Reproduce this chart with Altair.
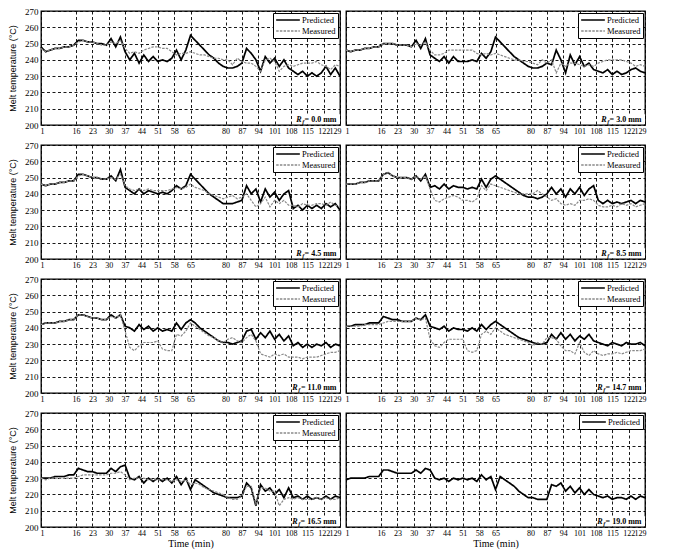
import altair as alt
import pandas as pd

# Sampling times (min), every 2 minutes
TIME = list(range(1, 130, 2))

X_TICKS = [1, 16, 23, 30, 37, 44, 51, 58, 65, 80, 87, 94, 101, 108, 115, 122, 129]
Y_TICKS = [200, 210, 220, 230, 240, 250, 260, 270]

RF_LABELS = ["0.0", "3.0", "4.5", "8.5", "11.0", "14.7", "16.5", "19.0"]

# Predicted melt temperature (°C), one list per Rf
PRED_00 = [248, 245, 246, 247, 247, 248, 248, 249, 252, 252, 251, 251, 250,
           250, 249, 253, 248, 254, 245, 240, 244, 238, 243, 239, 242, 239,
           240, 239, 241, 246, 240, 246, 255, 252, 249, 246, 243, 241, 238,
           236, 235, 235, 236, 238, 247, 244, 240, 233, 242, 238, 241, 236,
           240, 235, 233, 231, 233, 230, 232, 230, 232, 236, 231, 235, 230]
PRED_30 = [246, 245, 246, 246, 247, 247, 248, 248, 250, 250, 250, 249, 249,
           249, 248, 252, 247, 253, 243, 241, 239, 242, 238, 242, 239, 239,
           239, 240, 239, 244, 241, 245, 254, 251, 248, 245, 242, 240, 238,
           236, 235, 235, 236, 238, 237, 246, 240, 232, 243, 237, 242, 236,
           238, 234, 233, 232, 234, 231, 233, 231, 232, 234, 235, 233, 232]
PRED_45 = [246, 245, 246, 246, 247, 247, 248, 248, 252, 252, 251, 250, 250,
           249, 249, 251, 248, 255, 244, 242, 240, 243, 240, 242, 241, 240,
           241, 240, 242, 245, 243, 245, 252, 249, 246, 243, 240, 238, 236,
           234, 234, 234, 235, 236, 245, 240, 243, 235, 243, 238, 241, 236,
           240, 242, 231, 233, 230, 233, 231, 233, 231, 234, 232, 234, 230]
PRED_85 = [246, 246, 246, 247, 247, 248, 248, 248, 252, 253, 251, 250, 250,
           250, 249, 251, 248, 252, 244, 245, 243, 246, 243, 245, 244, 244,
           243, 244, 243, 249, 244, 249, 251, 249, 247, 245, 243, 241, 239,
           238, 238, 237, 238, 240, 244, 240, 243, 238, 243, 240, 244, 239,
           243, 245, 236, 234, 236, 234, 235, 234, 235, 236, 234, 236, 235]
PRED_110 = [242, 243, 243, 243, 244, 244, 245, 245, 248, 248, 247, 246, 246,
            245, 245, 248, 246, 248, 241, 240, 238, 242, 239, 241, 238, 240,
            238, 239, 238, 243, 239, 243, 245, 243, 240, 238, 236, 234, 232,
            231, 231, 230, 231, 232, 238, 239, 233, 237, 234, 238, 233, 236,
            232, 235, 229, 231, 228, 230, 228, 230, 229, 231, 228, 230, 229]
PRED_147 = [241, 241, 242, 242, 242, 243, 243, 243, 247, 246, 245, 245, 244,
            244, 244, 246, 245, 248, 241, 240, 239, 241, 238, 240, 239, 239,
            238, 240, 238, 242, 239, 242, 244, 242, 240, 238, 236, 234, 233,
            232, 231, 230, 230, 231, 236, 233, 237, 233, 236, 232, 235, 233,
            236, 232, 231, 230, 229, 231, 230, 229, 231, 230, 230, 231, 229]
PRED_165 = [230, 230, 230, 231, 231, 231, 232, 232, 236, 235, 234, 234, 233,
            233, 233, 236, 234, 237, 238, 230, 229, 231, 227, 230, 228, 230,
            228, 230, 227, 231, 226, 230, 223, 229, 227, 225, 223, 221, 220,
            219, 218, 218, 218, 219, 227, 224, 213, 226, 222, 224, 220, 223,
            218, 224, 218, 219, 217, 219, 217, 218, 217, 219, 217, 219, 218]
PRED_190 = [229, 230, 230, 230, 230, 231, 231, 231, 235, 235, 234, 233, 233,
            233, 233, 235, 233, 236, 235, 230, 229, 230, 228, 230, 229, 230,
            229, 230, 228, 232, 229, 231, 223, 231, 229, 227, 225, 222, 220,
            218, 218, 217, 217, 217, 226, 225, 227, 222, 225, 221, 224, 220,
            223, 220, 219, 218, 219, 217, 218, 218, 217, 219, 217, 219, 218]

# Measured melt temperature (°C); none recorded for Rf = 19.0 mm
MEAS_00 = [247, 245, 246, 247, 247, 248, 248, 249, 251, 252, 251, 251, 250,
           249, 249, 251, 250, 252, 247, 244, 245, 244, 246, 247, 248, 248,
           247, 247, 245, 243, 244, 244, 245, 244, 243, 243, 242, 241, 241,
           240, 240, 237, 241, 239, 238, 238, 236, 233, 240, 241, 239, 233,
           236, 237, 236, 237, 238, 238, 238, 239, 237, 236, 234, 237, 236]
MEAS_30 = [246, 245, 246, 246, 247, 247, 248, 248, 250, 250, 250, 249, 249,
           249, 248, 250, 249, 251, 246, 243, 243, 244, 246, 246, 246, 246,
           246, 246, 244, 243, 244, 243, 244, 243, 242, 241, 240, 240, 239,
           239, 238, 237, 240, 238, 240, 232, 238, 236, 238, 238, 237, 236,
           237, 236, 238, 239, 240, 240, 240, 240, 239, 238, 236, 237, 236]
MEAS_45 = [246, 245, 246, 246, 247, 247, 248, 248, 251, 252, 251, 250, 250,
           249, 249, 250, 249, 252, 245, 243, 242, 243, 242, 243, 242, 242,
           242, 242, 243, 244, 243, 244, 246, 244, 243, 242, 240, 239, 238,
           237, 238, 239, 237, 238, 240, 236, 232, 234, 238, 232, 236, 234,
           236, 233, 233, 232, 234, 233, 233, 234, 234, 233, 235, 233, 232]
MEAS_85 = [246, 246, 246, 247, 247, 248, 248, 248, 252, 253, 251, 250, 250,
           250, 249, 251, 249, 251, 243, 236, 235, 237, 238, 239, 238, 236,
           236, 235, 237, 245, 242, 246, 245, 244, 243, 242, 241, 240, 240,
           240, 240, 242, 240, 238, 236, 237, 234, 233, 234, 233, 236, 236,
           237, 236, 233, 232, 232, 233, 232, 234, 233, 234, 232, 233, 234]
MEAS_110 = [242, 243, 243, 243, 244, 244, 245, 245, 248, 248, 247, 246, 246,
            245, 245, 247, 246, 248, 238, 228, 226, 229, 231, 231, 231, 232,
            227, 226, 226, 236, 235, 238, 243, 241, 239, 237, 235, 234, 232,
            231, 233, 234, 232, 231, 234, 236, 232, 224, 223, 222, 224, 223,
            224, 222, 222, 222, 221, 222, 222, 222, 223, 224, 225, 225, 226]
MEAS_147 = [241, 241, 241, 241, 242, 242, 242, 242, 243, 244, 244, 244, 244,
            244, 244, 246, 245, 246, 233, 229, 228, 231, 233, 233, 233, 233,
            226, 225, 226, 236, 238, 236, 240, 238, 236, 235, 234, 233, 232,
            231, 229, 231, 230, 234, 234, 233, 229, 226, 226, 224, 231, 225,
            223, 226, 224, 223, 224, 224, 225, 224, 225, 226, 226, 226, 227]
MEAS_165 = [230, 229, 230, 230, 230, 230, 230, 230, 231, 232, 232, 232, 232,
            232, 232, 233, 233, 234, 232, 229, 230, 230, 230, 229, 229, 229,
            229, 229, 228, 229, 228, 229, 226, 227, 226, 224, 223, 222, 221,
            220, 218, 217, 217, 219, 225, 225, 214, 224, 224, 222, 222, 213,
            217, 218, 217, 218, 217, 217, 217, 218, 217, 218, 217, 217, 218]

PREDICTED = [PRED_00, PRED_30, PRED_45, PRED_85, PRED_110, PRED_147, PRED_165, PRED_190]
MEASURED = [MEAS_00, MEAS_30, MEAS_45, MEAS_85, MEAS_110, MEAS_147, MEAS_165, None]

SERIF = "Liberation Serif"
SANS = "Liberation Sans"


def text_width(s, size):
    """Rough advance width of bold serif text."""
    em = {"m": 0.83, ".": 0.25, " ": 0.25, "=": 0.57}
    return sum(em.get(c, 0.5) for c in s) * size


def panel(i, left, bottom):
    rows = [{"t": t, "temp": v, "series": "Predicted"} for t, v in zip(TIME, PREDICTED[i])]
    names, colors, dashes = ["Predicted"], ["black"], [[1, 0]]
    if MEASURED[i] is not None:
        rows += [{"t": t, "temp": v, "series": "Measured"} for t, v in zip(TIME, MEASURED[i])]
        names.append("Measured")
        colors.append("#8a8a8a")
        dashes.append([2.5, 1.2])
    df = pd.DataFrame(rows)

    x = alt.X("t:Q",
              scale=alt.Scale(domain=[1, 129], nice=False, zero=False),
              axis=alt.Axis(values=X_TICKS, title="Time (min)" if bottom else None,
                            labelFlush=True, labelFlushOffset=1, labelOverlap=False))
    y = alt.Y("temp:Q",
              scale=alt.Scale(domain=[200, 270], nice=False, zero=False),
              axis=alt.Axis(values=Y_TICKS, labels=left, labelOverlap=False,
                            title="Melt temperature (°C)" if left else None))
    leg = alt.Legend(title=None, orient="top-right")
    color = alt.Color("series:N", scale=alt.Scale(domain=names, range=colors), legend=leg)
    dash = alt.StrokeDash("series:N", scale=alt.Scale(domain=names, range=dashes), legend=leg)

    base = alt.Chart(df).encode(x=x, y=y, color=color, strokeDash=dash)
    pred = base.transform_filter(alt.datum.series == "Predicted").mark_line(strokeWidth=1.7)
    layers = [pred]
    if MEASURED[i] is not None:
        layers.append(base.transform_filter(alt.datum.series == "Measured")
                      .mark_line(strokeWidth=1.2))

    # Rf annotation in the lower-right corner, on a white patch
    tail = "= " + RF_LABELS[i] + " mm"
    w = text_width(tail, 8)
    box_df = pd.DataFrame([{"t": 110, "t1": 129, "temp": 200.6, "temp1": 206.6}])
    lab_df = pd.DataFrame([{"t": 127.5, "temp": 201.8}])
    box = alt.Chart(box_df).mark_rect(color="white").encode(
        x=x, x2=alt.X2("t1:Q"), y=y, y2=alt.Y2("temp1:Q"))
    ann = alt.Chart(lab_df).encode(x=x, y=y)
    tail_txt = ann.mark_text(align="right", baseline="alphabetic", font=SERIF,
                             fontWeight="bold", fontSize=8, color="black").encode(
        text=alt.value(tail))
    sub_txt = ann.mark_text(align="right", baseline="alphabetic", font=SERIF,
                            fontWeight="bold", fontStyle="italic", fontSize=6,
                            dx=-w - 0.5, dy=1.5, color="black").encode(text=alt.value("f"))
    r_txt = ann.mark_text(align="right", baseline="alphabetic", font=SERIF,
                          fontWeight="bold", fontStyle="italic", fontSize=8,
                          dx=-w - 3, color="black").encode(text=alt.value("R"))
    layers += [box, tail_txt, sub_txt, r_txt]

    return alt.layer(*layers).properties(width=299, height=114)


panels = []
for r in range(4):
    panels.append(panel(2 * r, True, r == 3))
    panels.append(panel(2 * r + 1, False, r == 3))

chart = (
    alt.concat(*panels, columns=2, spacing={"row": 20, "column": 6}, bounds="flush")
    .resolve_scale(color="independent", strokeDash="independent")
    .resolve_legend(color="independent", strokeDash="independent")
    .properties(padding={"left": 7, "top": 6, "right": 4, "bottom": 1}, background="white")
    .configure_view(stroke="black", strokeWidth=1.3)
    .configure_axis(
        grid=True, gridColor="black", gridDash=[3, 2.5], gridWidth=0.9, gridOpacity=1,
        domain=False, ticks=False, labelPadding=3,
        labelFont=SERIF, labelFontSize=9, labelColor="black",
        titleFont=SERIF, titleFontSize=10, titleColor="black", titleFontWeight="normal",
    )
    .configure_axisY(titleFont=SANS, titleFontSize=9, titlePadding=7)
    .configure_axisX(titlePadding=1, labelFontSize=8, labelPadding=2)
    .configure_legend(
        strokeColor="black", fillColor="white", padding=2, offset=2, cornerRadius=0,
        symbolType="stroke", symbolSize=560, symbolStrokeWidth=1.4, symbolOffset=0,
        labelFont=SERIF, labelFontSize=8.5, labelColor="black", rowPadding=1,
        labelOffset=1, clipHeight=10,
    )
)

chart.save("out.html", embed_options={"renderer": "svg", "actions": False})
